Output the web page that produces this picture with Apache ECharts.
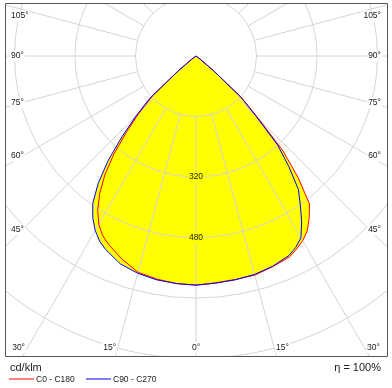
<!DOCTYPE html>
<html>
<head>
<meta charset="utf-8">
<script src="https://cdn.jsdelivr.net/npm/echarts@6/dist/echarts.min.js"></script>
<style>html,body{margin:0;padding:0;background:#fff}#c{width:392px;height:388px}</style>
</head>
<body>
<div id="c"></div>
<script>
// ---- data (cd/klm) ----
const gammas = [0, 5, 10, 15, 20, 25, 27.5, 30, 32.5, 35, 37.5, 40, 42.5, 45, 47.5, 50, 52.5, 55, 60, 70, 80, 90];
const c0     = [606, 602, 600, 600, 593, 586, 576, 564, 548, 522, 493, 421, 341, 232, 165, 62, 18, 4, 0, 0, 0, 0];
const c180   = [606, 604, 599, 592, 572, 549, 535, 514, 484, 444, 396, 337, 271, 213, 155, 60, 18, 4, 0, 0, 0, 0];
const c90    = [606, 603, 601, 598, 592, 582, 571, 555, 520, 481, 445, 382, 320, 222, 160, 60, 18, 4, 0, 0, 0, 0];
const c270   = [606, 604, 601, 595, 585, 565, 552, 533, 508, 476, 425, 362, 290, 225, 165, 65, 20, 5, 0, 0, 0, 0];
const seriesNames = ['C0 - C180', 'C90 - C270'];
const sideLabels = ['105°', '90°', '75°', '60°', '45°'];
const bottomAngles = [-30, -15, 0, 15, 30];
const bottomLabels = ['30°', '15°', '0°', '15°', '30°'];
const ringLabels = [320, 480];
const unitText = 'cd/klm';
const etaText = 'η = 100%';

// ---- layout ----
const cx = 196, cy = 56, ring = 60.5, step = 160, nRings = 7;
const box = {x0: 5, y0: 3, x1: 387, y1: 356};
const sideY = [16, 56, 102.5, 156, 229.3];
const bottomY = 347.3;
const smallFont = '8.5px "Liberation Sans", Arial, sans-serif';
const bigFont = '11px "Liberation Sans", Arial, sans-serif';
const txtColor = '#202020';
const gridColor = '#d4d4d4';

function buildData(left, right) {
  const d = [];
  for (let i = gammas.length - 1; i >= 0; i--) d.push([left[i], -gammas[i]]);
  for (let i = 1; i < gammas.length; i++) d.push([right[i], gammas[i]]);
  return d;
}
const redData = buildData(c180, c0);
const blueData = buildData(c270, c90);

const chart = echarts.init(document.getElementById('c'), null, {renderer: 'canvas'});

const graphics = [];
// white covers outside the frame
graphics.push({type: 'rect', z: 100, shape: {x: 0, y: 0, width: 392, height: box.y0}, style: {fill: '#fff'}});
graphics.push({type: 'rect', z: 100, shape: {x: 0, y: 0, width: box.x0, height: 388}, style: {fill: '#fff'}});
graphics.push({type: 'rect', z: 100, shape: {x: box.x1 + 1, y: 0, width: 10, height: 388}, style: {fill: '#fff'}});
graphics.push({type: 'rect', z: 100, shape: {x: 0, y: box.y1 + 1, width: 392, height: 40}, style: {fill: '#fff'}});
// frame
graphics.push({type: 'rect', z: 101, shape: {x: box.x0 + 0.5, y: box.y0 + 0.5, width: box.x1 - box.x0, height: box.y1 - box.y0},
  style: {fill: 'none', stroke: '#555', lineWidth: 1}});
// side angle labels
sideLabels.forEach((t, i) => {
  graphics.push({type: 'text', z: 102, x: 10, y: sideY[i],
    style: {text: t, font: smallFont, fill: txtColor, align: 'left', verticalAlign: 'middle', backgroundColor: '#fff', padding: [1, 1]}});
  graphics.push({type: 'text', z: 102, x: 382, y: sideY[i],
    style: {text: t, font: smallFont, fill: txtColor, align: 'right', verticalAlign: 'middle', backgroundColor: '#fff', padding: [1, 1]}});
});
// bottom angle labels
bottomAngles.forEach((a, i) => {
  const dy = bottomY + 3 - cy;
  const off = a === 0 ? 0 : Math.sign(a) * (dy * Math.tan(Math.abs(a) * Math.PI / 180) + 7.5);
  graphics.push({type: 'text', z: 102, x: cx + off, y: bottomY,
    style: {text: bottomLabels[i], font: smallFont, fill: txtColor, align: 'center', verticalAlign: 'middle', backgroundColor: '#fff', padding: [1, 1]}});
});
// ring value labels
ringLabels.forEach(v => {
  graphics.push({type: 'text', z: 102, x: cx, y: cy + v / step * ring,
    style: {text: String(v), font: smallFont, fill: txtColor, align: 'center', verticalAlign: 'middle', backgroundColor: '#ffff00', padding: [1, 1]}});
});
// footer
graphics.push({type: 'text', z: 102, x: 10, y: 368, style: {text: unitText, font: bigFont, fill: txtColor, align: 'left', verticalAlign: 'middle'}});
graphics.push({type: 'text', z: 102, x: 381, y: 368, style: {text: etaText, font: bigFont, fill: txtColor, align: 'right', verticalAlign: 'middle'}});
const legendColors = ['#ff0000', '#0000ff'];
const legendX = [9, 86];
seriesNames.forEach((n, i) => {
  graphics.push({type: 'line', z: 102, shape: {x1: legendX[i], y1: 379, x2: legendX[i] + 25, y2: 379}, style: {stroke: legendColors[i], lineWidth: 1}});
  graphics.push({type: 'text', z: 102, x: legendX[i] + 27, y: 379.5, style: {text: n, font: smallFont, fill: txtColor, align: 'left', verticalAlign: 'middle'}});
});

const option = {
  animation: false,
  polar: [
    {center: [cx, cy], radius: [ring, ring * nRings]},
    {center: [cx, cy], radius: ring * nRings}
  ],
  angleAxis: [
    {polarIndex: 0, type: 'value', min: -180, max: 180, interval: 15, startAngle: 90, clockwise: false, z: 2,
      axisLine: {show: false}, axisTick: {show: false}, axisLabel: {show: false},
      splitLine: {show: true, lineStyle: {color: gridColor, width: 1}}},
    {polarIndex: 1, type: 'value', min: -180, max: 180, startAngle: 90, clockwise: false, show: false}
  ],
  radiusAxis: [
    {polarIndex: 0, type: 'value', min: step, max: step * nRings, interval: step, z: 2,
      axisLine: {show: false}, axisTick: {show: false}, axisLabel: {show: false},
      splitLine: {show: true, lineStyle: {color: gridColor, width: 1}}},
    {polarIndex: 1, type: 'value', min: 0, max: step * nRings, show: false}
  ],
  series: [
    {name: 'fillA', type: 'line', coordinateSystem: 'polar', polarIndex: 1, data: redData, showSymbol: false, silent: true, z: 1,
      lineStyle: {width: 0, opacity: 0}, areaStyle: {color: '#ffff00', opacity: 1}},
    {name: 'fillB', type: 'line', coordinateSystem: 'polar', polarIndex: 1, data: blueData, showSymbol: false, silent: true, z: 1,
      lineStyle: {width: 0, opacity: 0}, areaStyle: {color: '#ffff00', opacity: 1}},
    {name: seriesNames[0], type: 'line', coordinateSystem: 'polar', polarIndex: 1, data: redData, showSymbol: false, z: 3,
      lineStyle: {color: '#ff0000', width: 1}, itemStyle: {color: '#ff0000'}},
    {name: seriesNames[1], type: 'line', coordinateSystem: 'polar', polarIndex: 1, data: blueData, showSymbol: false, z: 4,
      lineStyle: {color: '#0000ff', width: 1}, itemStyle: {color: '#0000ff'}}
  ],
  graphic: {elements: graphics}
};
chart.setOption(option);
</script>
</body>
</html>
